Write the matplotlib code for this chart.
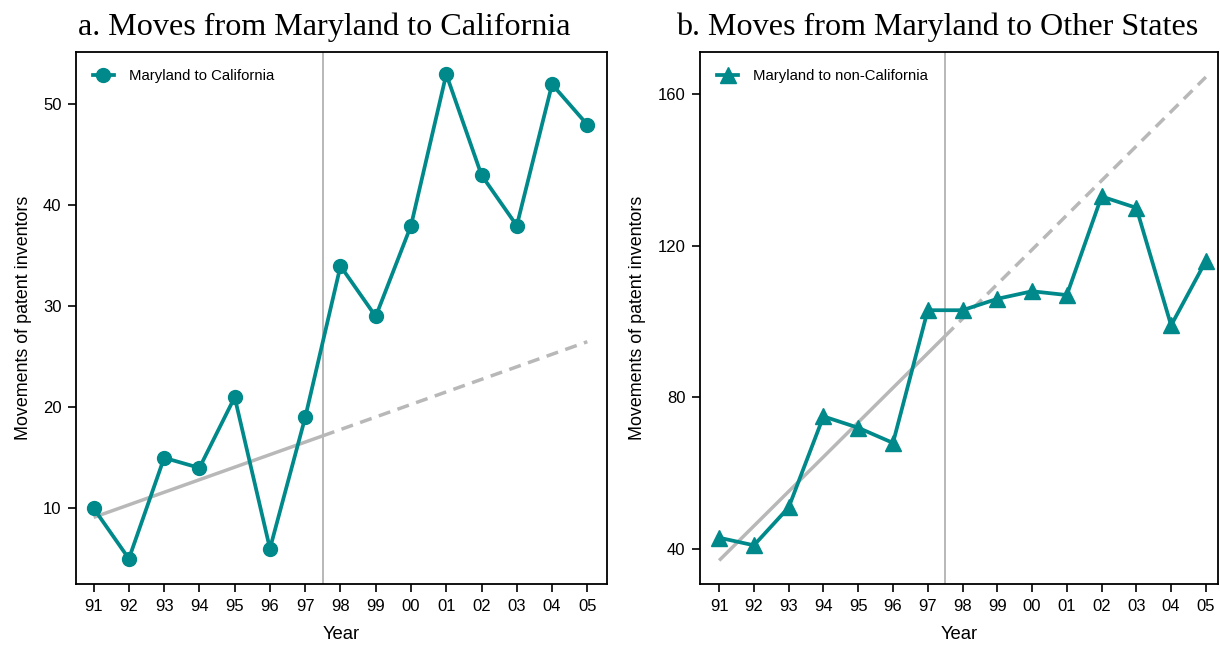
import matplotlib.pyplot as plt
import numpy as np

years = ["91", "92", "93", "94", "95", "96", "97", "98", "99", "00", "01", "02", "03", "04", "05"]
md_to_ca = [10, 5, 15, 14, 21, 6, 19, 34, 29, 38, 53, 43, 38, 52, 48]
md_to_other = [43, 41, 51, 75, 72, 68, 103, 103, 106, 108, 107, 133, 130, 99, 116]

# pre-period linear trend (value at 91 and at 05)
trend_ca = [9.1, 26.5]
trend_other = [37.0, 164.5]
cutoff = 6.5  # between 97 and 98

teal = "#00898a"
grey = "#b8b8b8"

plt.rcParams["font.family"] = ["Liberation Sans", "DejaVu Sans"]

fig = plt.figure(figsize=(12.2, 6.46), dpi=100)
ax1 = fig.add_axes([0.0623, 0.096, 0.435, 0.8235])
ax2 = fig.add_axes([0.5738, 0.096, 0.4246, 0.8235])

X = np.arange(len(years))


def panel(ax, vals, trend, marker, ms, label, ylim, yticks, xlim):
    t0, t1 = trend
    slope = (t1 - t0) / (len(years) - 1)
    xs = np.array([0, cutoff])
    ax.plot(xs, t0 + slope * xs, color=grey, lw=2.5, solid_capstyle="butt", zorder=1)
    xd = np.array([cutoff, len(years) - 1])
    ax.plot(xd, t0 + slope * xd, color=grey, lw=2.5, ls=(0, (3.5, 2.2)), zorder=1)
    ax.axvline(cutoff, color=grey, lw=1.4, zorder=1)
    ax.plot(X, vals, color=teal, lw=2.7, marker=marker, ms=ms, label=label, zorder=3)
    ax.set_xlim(*xlim)
    ax.set_ylim(*ylim)
    ax.set_yticks(yticks)
    ax.set_xticks(X)
    ax.set_xticklabels(years)
    ax.tick_params(labelsize=12, length=5.5, width=1.2, direction="out", pad=5)
    for s in ax.spines.values():
        s.set_linewidth(1.3)
    ax.set_xlabel("Year", fontsize=13.3, labelpad=9)
    ax.set_ylabel("Movements of patent inventors", fontsize=12.9, labelpad=8)
    ax.legend(loc="upper left", frameon=False, fontsize=10.7, handlelength=1.4,
              handletextpad=1.0, borderaxespad=0.75)


panel(ax1, md_to_ca, trend_ca, "o", 10, "Maryland to California",
      (2.5, 55.2), [10, 20, 30, 40, 50], (-0.5, 14.55))
panel(ax2, md_to_other, trend_other, "^", 11, "Maryland to non-California",
      (30.8, 171.1), [40, 80, 120, 160], (-0.55, 14.35))

fig.text(0.266, 0.958, "a. Moves from Maryland to California", fontsize=23.1,
         family="Liberation Serif", ha="center", va="center")
fig.text(0.768, 0.958, "b. Moves from Maryland to Other States", fontsize=23.1,
         family="Liberation Serif", ha="center", va="center")

fig.savefig("out.png", dpi=100)
